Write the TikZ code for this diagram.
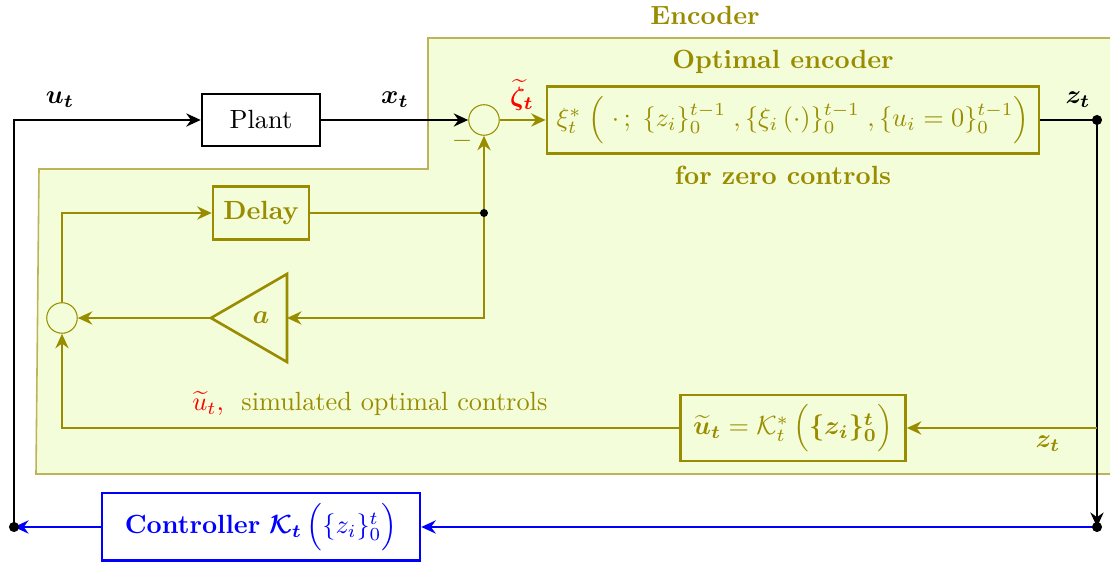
\documentclass[tikz,border=0pt]{standalone}
\usepackage{amsmath, amssymb, bm}
\usepackage{xcolor}
\usetikzlibrary{arrows.meta}
\definecolor{encolive}{RGB}{153, 140, 0}
\definecolor{encfill}{RGB}{243, 253, 217}

\begin{document}
\begin{tikzpicture}[x=0.38pt, y=-0.38pt, >={Stealth[length=5.5pt, width=5pt, inset=1.8pt]}]
    \useasboundingbox (0,0) rectangle (1110,562);
    \tikzset{
        blk/.style={draw, thick, minimum height=20pt, inner sep=3pt},
        sumc/.style={draw=encolive, circle, minimum size=11.6pt, inner sep=0pt},
        enc/.style={encolive, line width=1pt},
        enctext/.style={text=encolive, font=\bfseries},
    }
    % encoder region
    \fill[encfill] (428,38) -- (1110,38) -- (1110,474) -- (36,474) -- (39,169) -- (428,169) -- cycle;
    \draw[encolive!65, semithick] (1110,38) -- (428,38) -- (428,169) -- (39,169) -- (36,474) -- (1110,474);
    \node[enctext] (enclabel) at (705,15) {Encoder};
    \node[enctext] (optlabel) at (783,62) {Optimal encoder};
    \node[enctext] (zerolabel) at (783,175) {for zero controls};

    % blocks
    \node[blk, minimum width=45pt] (plant) at (261,120) {Plant};
    \node[sumc] (sum1) at (484,120) {};
    \node[blk, draw=encolive, text=encolive, line width=1pt, minimum width=187pt, minimum height=25.5pt] (xibox) at (793,120)
        {$\xi_t^*\;\Big(\;\cdot\,;\;\{z_i\}_0^{t-1}\;,\{\xi_i\left(\cdot\right)\}_0^{t-1}\;,\{u_i=0\}_0^{t-1}\Big)$};
    \node[blk, draw=encolive, text=encolive, line width=1pt, font=\bfseries, minimum width=36.5pt] (delay) at (261,213) {Delay};
    \node[sumc] (sum2) at (62,318) {};
    \draw[enc] (287,274) -- (287,362) -- (211,318) -- cycle;
    \node[text=encolive] (gain) at (261,318) {$\bm{a}$};
    \coordinate (gainin) at (287,318);
    \coordinate (gainout) at (211,318);
    \node[blk, draw=encolive, text=encolive, line width=1pt, minimum width=85.5pt, minimum height=25pt] (kbox) at (793,428)
        {$\widetilde{\bm{u}}_{\bm{t}}=\mathcal{K}_t^*\,\Big(\bm{\{z_i\}_0^t}\Big)$};
    \node[blk, draw=blue, text=blue, minimum width=121pt, minimum height=25.5pt] (ctrl) at (261,527)
        {\textbf{Controller} $\bm{\mathcal{K}_t}\,\Big(\{z_i\}_0^t\Big)$\hspace{3pt}};

    \coordinate (ztap) at (1097,120);
    \coordinate (zbot) at (1097,527);
    \coordinate (zfb) at (1097,428);
    \coordinate (utap) at (14,527);
    \coordinate (dtap) at (484,213);

    % black connectors
    \draw[thick, ->] (utap) |- (plant.west);
    \draw[thick, ->] (plant) -- (sum1);
    \draw[thick] (xibox) -- (ztap);
    \draw[thick, ->] (ztap) -- (zbot);

    % encoder connectors
    \draw[enc, ->] (sum1) -- (xibox);
    \draw[enc, ->] (zfb) -- (kbox);
    \draw[enc, ->] (kbox) -| (sum2);
    \draw[enc, ->] (sum2) |- (delay);
    \draw[enc] (delay) -- (dtap);
    \draw[enc, ->] (dtap) -- (sum1);
    \draw[enc, ->] (dtap) |- (gainin);
    \draw[enc, ->] (gainout) -- (sum2);

    % controller connectors
    \draw[blue, line width=1pt, ->] (zbot) -- (ctrl);
    \draw[blue, line width=1pt, ->] (ctrl) -- (utap);

    \filldraw[black] (ztap) circle (1.7pt);
    \filldraw[black] (zbot) circle (1.7pt);
    \filldraw[black] (utap) circle (1.7pt);
    \filldraw[black] (dtap) circle (1.3pt);

    % labels
    \node (ulabel) at (60,100) {$\bm{u_t}$};
    \node (xlabel) at (395,100) {$\bm{x_t}$};
    \node (zlabel) at (1078,100) {$\bm{z_t}$};
    \node[text=red] (zetalabel) at (522,95) {$\widetilde{\bm{\zeta}}_{\bm{t}}$};
    \node[text=encolive] (minus) at (462,141) {$-$};
    \node[text=encolive] (zfblabel) at (1048,444) {$\bm{z_t}$};
    \node[anchor=west] (simlabel) at (183,404) {\textcolor{red}{$\widetilde{u}_t,$}\ \ \textcolor{encolive}{simulated optimal controls}};
\end{tikzpicture}
\end{document}
